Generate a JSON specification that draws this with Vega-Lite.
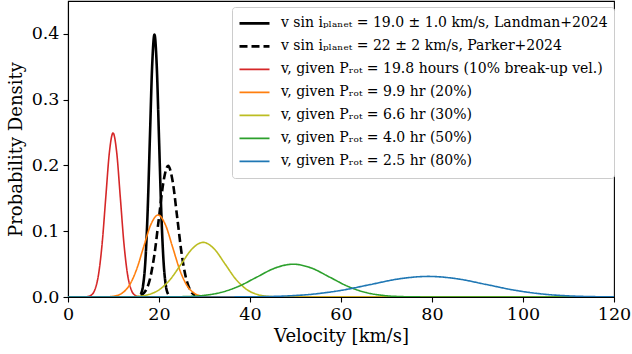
{
  "$schema": "https://vega.github.io/schema/vega-lite/v6.json",
  "width": 546,
  "height": 296,
  "autosize": {"type": "none"},
  "padding": {"left": 68, "top": 1, "right": 18, "bottom": 57},
  "background": "white",
  "config": {
    "font": "DejaVu Serif",
    "view": {"stroke": "black", "strokeWidth": 1.1},
    "axis": {
      "grid": false,
      "domainColor": "black",
      "domainWidth": 1.1,
      "tickColor": "black",
      "tickSize": 5,
      "tickWidth": 1.1,
      "labelFlush": false,
      "labelFont": "DejaVu Serif",
      "labelFontSize": 17.5,
      "labelColor": "black",
      "labelPadding": 3.5,
      "titleFont": "DejaVu Serif",
      "titleFontSize": 18,
      "titleFontWeight": "normal",
      "titleColor": "black"
    }
  },
  "data": {
    "values": [
      {"s": "A", "v": 16, "p": 0.00443}, {"s": "A", "v": 16.5, "p": 0.01753}, {"s": "A", "v": 17, "p": 0.05399}, {"s": "A", "v": 17.5, "p": 0.12952}, {"s": "A", "v": 18, "p": 0.24197}, {"s": "A", "v": 18.5, "p": 0.35207}, {"s": "A", "v": 19, "p": 0.39894}, {"s": "A", "v": 19.5, "p": 0.35207}, {"s": "A", "v": 20, "p": 0.24197}, {"s": "A", "v": 20.5, "p": 0.12952}, {"s": "A", "v": 21, "p": 0.05399}, {"s": "A", "v": 21.5, "p": 0.01753}, {"s": "A", "v": 22, "p": 0.00443},
      {"s": "B", "v": 16, "p": 0.00222}, {"s": "B", "v": 17, "p": 0.00876}, {"s": "B", "v": 18, "p": 0.027}, {"s": "B", "v": 19, "p": 0.06476}, {"s": "B", "v": 20, "p": 0.12099}, {"s": "B", "v": 21, "p": 0.17603}, {"s": "B", "v": 22, "p": 0.19947}, {"s": "B", "v": 23, "p": 0.17603}, {"s": "B", "v": 24, "p": 0.12099}, {"s": "B", "v": 25, "p": 0.06476}, {"s": "B", "v": 26, "p": 0.027}, {"s": "B", "v": 27, "p": 0.00876}, {"s": "B", "v": 28, "p": 0.00222},
      {"s": "C", "v": 0, "p": 0}, {"s": "C", "v": 3.5, "p": 0.00008}, {"s": "C", "v": 4.3, "p": 0.00054}, {"s": "C", "v": 5.1, "p": 0.00277}, {"s": "C", "v": 5.9, "p": 0.01096}, {"s": "C", "v": 6.7, "p": 0.03374}, {"s": "C", "v": 7.5, "p": 0.08095}, {"s": "C", "v": 8.3, "p": 0.15123}, {"s": "C", "v": 9.1, "p": 0.22004}, {"s": "C", "v": 9.9, "p": 0.24934}, {"s": "C", "v": 10.7, "p": 0.22004}, {"s": "C", "v": 11.5, "p": 0.15123}, {"s": "C", "v": 12.3, "p": 0.08095}, {"s": "C", "v": 13.1, "p": 0.03374}, {"s": "C", "v": 13.9, "p": 0.01096}, {"s": "C", "v": 14.7, "p": 0.00277}, {"s": "C", "v": 15.5, "p": 0.00054}, {"s": "C", "v": 16.3, "p": 0.00008}, {"s": "C", "v": 120, "p": 0},
      {"s": "D", "v": 0, "p": 0}, {"s": "D", "v": 7.0, "p": 0.00004}, {"s": "D", "v": 8.6, "p": 0.00027}, {"s": "D", "v": 10.2, "p": 0.00138}, {"s": "D", "v": 11.8, "p": 0.00548}, {"s": "D", "v": 13.4, "p": 0.01687}, {"s": "D", "v": 15.0, "p": 0.04048}, {"s": "D", "v": 16.6, "p": 0.07562}, {"s": "D", "v": 18.2, "p": 0.11002}, {"s": "D", "v": 19.8, "p": 0.12467}, {"s": "D", "v": 21.4, "p": 0.11002}, {"s": "D", "v": 23.0, "p": 0.07562}, {"s": "D", "v": 24.6, "p": 0.04048}, {"s": "D", "v": 26.2, "p": 0.01687}, {"s": "D", "v": 27.8, "p": 0.00548}, {"s": "D", "v": 29.4, "p": 0.00138}, {"s": "D", "v": 31.0, "p": 0.00027}, {"s": "D", "v": 32.6, "p": 0.00004}, {"s": "D", "v": 120, "p": 0},
      {"s": "E", "v": 0, "p": 0}, {"s": "E", "v": 10.5, "p": 0.00003}, {"s": "E", "v": 12.9, "p": 0.00018}, {"s": "E", "v": 15.3, "p": 0.00092}, {"s": "E", "v": 17.7, "p": 0.00365}, {"s": "E", "v": 20.1, "p": 0.01125}, {"s": "E", "v": 22.5, "p": 0.02698}, {"s": "E", "v": 24.9, "p": 0.05041}, {"s": "E", "v": 27.3, "p": 0.07335}, {"s": "E", "v": 29.7, "p": 0.08311}, {"s": "E", "v": 32.1, "p": 0.07335}, {"s": "E", "v": 34.5, "p": 0.05041}, {"s": "E", "v": 36.9, "p": 0.02698}, {"s": "E", "v": 39.3, "p": 0.01125}, {"s": "E", "v": 41.7, "p": 0.00365}, {"s": "E", "v": 44.1, "p": 0.00092}, {"s": "E", "v": 46.5, "p": 0.00018}, {"s": "E", "v": 48.9, "p": 0.00003}, {"s": "E", "v": 120, "p": 0},
      {"s": "F", "v": 0, "p": 0}, {"s": "F", "v": 17.5, "p": 0.00002}, {"s": "F", "v": 21.5, "p": 0.00011}, {"s": "F", "v": 25.5, "p": 0.00055}, {"s": "F", "v": 29.5, "p": 0.00219}, {"s": "F", "v": 33.5, "p": 0.00675}, {"s": "F", "v": 37.5, "p": 0.01619}, {"s": "F", "v": 41.5, "p": 0.03025}, {"s": "F", "v": 45.5, "p": 0.04401}, {"s": "F", "v": 49.5, "p": 0.04987}, {"s": "F", "v": 53.5, "p": 0.04401}, {"s": "F", "v": 57.5, "p": 0.03025}, {"s": "F", "v": 61.5, "p": 0.01619}, {"s": "F", "v": 65.5, "p": 0.00675}, {"s": "F", "v": 69.5, "p": 0.00219}, {"s": "F", "v": 73.5, "p": 0.00055}, {"s": "F", "v": 77.5, "p": 0.00011}, {"s": "F", "v": 81.5, "p": 0.00002}, {"s": "F", "v": 120, "p": 0},
      {"s": "G", "v": 0, "p": 0}, {"s": "G", "v": 28.2, "p": 0.00001}, {"s": "G", "v": 34.6, "p": 0.00007}, {"s": "G", "v": 41.0, "p": 0.00035}, {"s": "G", "v": 47.3, "p": 0.00137}, {"s": "G", "v": 53.7, "p": 0.00423}, {"s": "G", "v": 60.1, "p": 0.01016}, {"s": "G", "v": 66.5, "p": 0.01898}, {"s": "G", "v": 72.8, "p": 0.02761}, {"s": "G", "v": 79.2, "p": 0.03129}, {"s": "G", "v": 85.6, "p": 0.02761}, {"s": "G", "v": 91.95, "p": 0.01898}, {"s": "G", "v": 98.3, "p": 0.01016}, {"s": "G", "v": 104.7, "p": 0.00423}, {"s": "G", "v": 111.1, "p": 0.00137}, {"s": "G", "v": 117.45, "p": 0.00035}, {"s": "G", "v": 120, "p": 0.00019}
    ]
  },
  "mark": {"type": "line", "interpolate": "monotone", "clip": true},
  "encoding": {
    "x": {
      "field": "v", "type": "quantitative",
      "scale": {"domain": [0, 120], "nice": false, "zero": false},
      "axis": {"values": [0, 20, 40, 60, 80, 100, 120], "title": "Velocity [km/s]", "titlePadding": 4}
    },
    "y": {
      "field": "p", "type": "quantitative",
      "scale": {"domain": [0, 0.45], "nice": false},
      "axis": {"values": [0, 0.1, 0.2, 0.3, 0.4], "format": ".1f", "title": "Probability Density", "titlePadding": 6, "labelPadding": 4}
    },
    "detail": {"field": "s"},
    "order": {"field": "v"},
    "color": {
      "field": "s", "type": "nominal",
      "scale": {"domain": ["A", "B", "C", "D", "E", "F", "G"], "range": ["#000000", "#000000", "#d62728", "#ff7f0e", "#bcbd22", "#2ca02c", "#1f77b4"]},
      "legend": {
        "title": null,
        "orient": "none",
        "legendX": 164,
        "legendY": 6,
        "fillColor": "white",
        "strokeColor": "#cccccc",
        "cornerRadius": 3,
        "padding": 6,
        "symbolType": "stroke",
        "symbolSize": 900,
        "clipHeight": 20.8,
        "rowPadding": 2,
        "labelOffset": 10,
        "labelFont": "DejaVu Serif",
        "labelFontSize": 14,
        "labelColor": "black",
        "labelLimit": 0,
        "labelExpr": "datum.label == 'A' ? 'v sin iₚₗₐₙₑₜ = 19.0 ± 1.0 km/s, Landman+2024' : datum.label == 'B' ? 'v sin iₚₗₐₙₑₜ = 22 ± 2 km/s, Parker+2024' : datum.label == 'C' ? 'v, given Pᵣₒₜ = 19.8 hours (10% break-up vel.)' : datum.label == 'D' ? 'v, given Pᵣₒₜ = 9.9 hr (20%)' : datum.label == 'E' ? 'v, given Pᵣₒₜ = 6.6 hr (30%)' : datum.label == 'F' ? 'v, given Pᵣₒₜ = 4.0 hr (50%)' : 'v, given Pᵣₒₜ = 2.5 hr (80%)'"
      }
    },
    "strokeDash": {
      "field": "s", "type": "nominal",
      "scale": {"domain": ["A", "B", "C", "D", "E", "F", "G"], "range": [[1, 0], [8, 4], [1, 0], [1, 0], [1, 0], [1, 0], [1, 0]]}
    },
    "strokeWidth": {
      "field": "s", "type": "nominal",
      "scale": {"type": "ordinal", "domain": ["A", "B", "C", "D", "E", "F", "G"], "range": [2.6, 2.6, 1.6, 1.6, 1.6, 1.6, 1.6]}
    }
  }
}
